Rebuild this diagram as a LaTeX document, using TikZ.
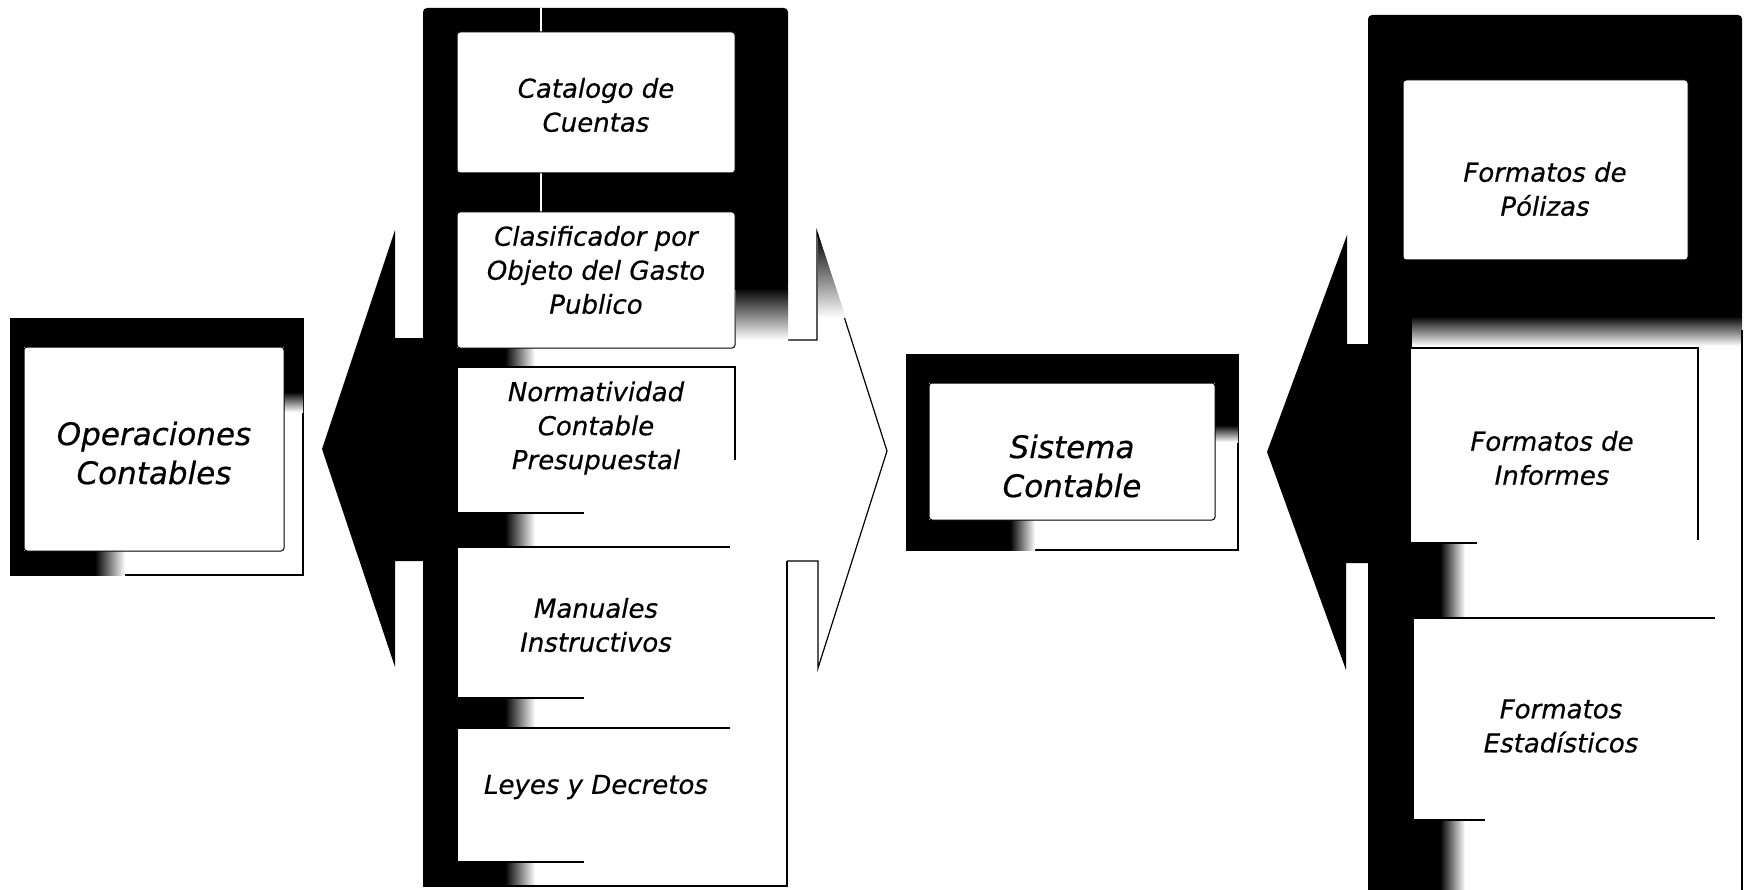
\documentclass[tikz,border=0pt]{standalone}
\usepackage{fontspec}
\newfontfamily\lblfont{DejaVu Sans}[ItalicFeatures={FakeBold=0.5}]
\tikzset{
  thinline/.style={draw=black, line width=1.2pt},
  wbox/.style={fill=white, draw=black, line width=1pt, rounded corners=3pt, inner sep=0pt},
  wfill/.style={fill=white, draw=none, inner sep=0pt},
  bigtxt/.style={font=\lblfont\itshape\fontsize{31}{39}\selectfont, align=center, inner sep=0pt},
  smtxt/.style={font=\lblfont\itshape\fontsize{26}{34}\selectfont, align=center, inner sep=0pt},
  fadeR/.style={left color=black, right color=white, draw=none},
  fadeD/.style={top color=black, bottom color=white, draw=none},
}
\begin{document}
\begin{tikzpicture}[x=1pt,y=-1pt]
\useasboundingbox (0,0) rectangle (1744,890);
\fill[white] (0,0) rectangle (1744,890);

% ---------- left box: Operaciones Contables ----------
\draw[thinline] (11,319) rectangle (303,575);
\fill (11,319) rectangle (303,347);
\fill (11,319) rectangle (24,575);
\fill (11,551) rectangle (95,575);
\shade[fadeR] (95,551) rectangle (125,575);
\fill (284,319) rectangle (303,392);
\shade[fadeD] (284,392) rectangle (303,412);
\node[wbox, minimum width=260pt, minimum height=204pt] (opsbox) at (154,449) {};
\node[bigtxt] (ops) at (154,453) {Operaciones\\Contables};

% ---------- black arrow pointing left ----------
\fill (424,338) -- (395,338) -- (395,230) -- (322,449) -- (395,667) -- (395,561) -- (424,561) -- cycle;

% ---------- outline arrow pointing right ----------
\draw[thinline, fill=white] (787,340) -- (817,340) -- (817,232) -- (887,451) -- (818,668) -- (818,561) -- (787,561);
\shade[fadeD] (818,234) -- (846,318) -- (818,318) -- cycle;

% ---------- left stack ----------
\fill[rounded corners=4pt] (423,8) -- (788,8) -- (788,290) -- (423,290) -- cycle;
\shade[fadeD] (736,288) rectangle (788,340);
\fill (423,285) rectangle (457,886);
\foreach \ya/\yb in {348/367, 513/547, 698/728, 862/886}{
  \fill (457,\ya) rectangle (505,\yb);
  \shade[fadeR] (505,\ya) rectangle (535,\yb);
}
\draw[thinline] (787,561) -- (787,886) -- (423,886);
\draw[white, line width=1.5pt] (541,8) -- (541,32) (541,173) -- (541,212);

\node[wbox, minimum width=278pt, minimum height=141pt] (catbox) at (596,102.5) {};
\node[wbox, minimum width=278pt, minimum height=136pt] (clasbox) at (596,280) {};
\node[wfill, minimum width=278pt, minimum height=146pt] (normbox) at (596,440) {};
\node[wfill, minimum width=278pt, minimum height=151pt] (manbox) at (596,622.5) {};
\node[wfill, minimum width=278pt, minimum height=134pt] (leybox) at (596,795) {};
\draw[thinline] (584,513) -- (457,513) -- (457,367) -- (735,367) -- (735,460);
\draw[thinline] (584,698) -- (457,698) -- (457,547) -- (730,547);
\draw[thinline] (584,862) -- (457,862) -- (457,728) -- (730,728);

\node[smtxt] (cat) at (596,105) {Catalogo de\\Cuentas};
\node[smtxt] (clas) at (596,270) {Clasificador por\\Objeto del Gasto\\Publico};
\node[smtxt] (norm) at (596,428) {Normatividad\\Contable\\Presupuestal};
\node[smtxt] (man) at (596,625) {Manuales\\Instructivos};
\node[smtxt] (ley) at (596,787) {Leyes y Decretos};

% ---------- middle box: Sistema Contable ----------
\draw[thinline] (907,355) rectangle (1238,550);
\fill (907,355) rectangle (1238,383);
\fill (907,355) rectangle (929,550);
\fill (907,520) rectangle (1010,550);
\shade[fadeR] (1010,520) rectangle (1035,550);
\fill (1215,355) rectangle (1238,425);
\shade[fadeD] (1215,425) rectangle (1238,442);
\node[wbox, minimum width=286pt, minimum height=137pt] (sistbox) at (1072,451.5) {};
\node[bigtxt] (sist) at (1072,466) {Sistema\\Contable};

% ---------- black arrow pointing left (right side) ----------
\fill (1369,344) -- (1347,344) -- (1347,235) -- (1267,452) -- (1346,670) -- (1346,563) -- (1369,563) -- cycle;

% ---------- right stack ----------
\fill[rounded corners=4pt] (1368,15) -- (1742,15) -- (1742,318) -- (1368,318) -- cycle;
\shade[fadeD] (1368,316) rectangle (1742,346);
\fill (1368,310) rectangle (1412,890);
\foreach \ya/\yb in {543/618, 820/890}{
  \fill (1412,\ya) rectangle (1440,\yb);
  \shade[fadeR] (1440,\ya) rectangle (1465,\yb);
}
\draw[thinline] (1742,330) -- (1742,890);

\node[wbox, minimum width=285pt, minimum height=180pt] (polbox) at (1545.5,170) {};
\node[wfill, minimum width=288pt, minimum height=195pt] (infbox) at (1554,445.5) {};
\node[wfill, minimum width=302pt, minimum height=202pt] (estbox) at (1564,719) {};
\draw[thinline] (1477,543) -- (1410,543) -- (1410,348) -- (1698,348) -- (1698,540);
\draw[thinline] (1485,820) -- (1413,820) -- (1413,618) -- (1715,618);

\node[smtxt] (pol) at (1545,189) {Formatos de\\Pólizas};
\node[smtxt] (inf) at (1552,458) {Formatos de\\Informes};
\node[smtxt] (est) at (1561,726) {Formatos\\Estadísticos};
\end{tikzpicture}
\end{document}
